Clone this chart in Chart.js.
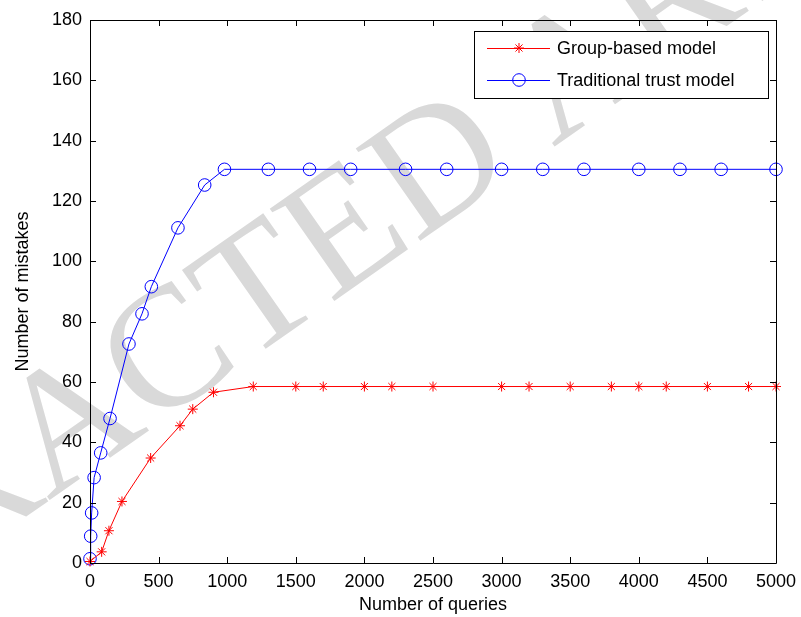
<!DOCTYPE html>
<html>
<head>
<meta charset="utf-8">
<script src="https://cdn.jsdelivr.net/npm/chart.js@4/dist/chart.umd.min.js"></script>
<style>
  html, body { margin: 0; padding: 0; background: #fff; }
  #wrap { width: 801px; height: 617px; }
</style>
</head>
<body>
<div id="wrap"><canvas id="chart" width="801" height="617"></canvas></div>
<script>
// values
const groupQueries = [0, 85, 138, 233, 442, 656, 749, 900, 1190, 1500, 1700, 2000, 2200, 2500, 3000, 3200, 3500, 3800, 4000, 4200, 4500, 4800, 5000];
const groupMistakes = [0.5, 3.7, 10.7, 20.4, 34.8, 45.5, 51.0, 56.6, 58.5, 58.5, 58.5, 58.5, 58.5, 58.5, 58.5, 58.5, 58.5, 58.5, 58.5, 58.5, 58.5, 58.5, 58.5];
const tradQueries = [0, 5, 12, 30, 78, 146, 284, 379, 447, 641, 836, 980, 1300, 1600, 1900, 2300, 2600, 3000, 3300, 3600, 4000, 4300, 4600, 5000];
const tradMistakes = [1.4, 8.9, 16.6, 28.3, 36.5, 47.9, 72.6, 82.6, 91.6, 111.1, 125.3, 130.5, 130.5, 130.5, 130.5, 130.5, 130.5, 130.5, 130.5, 130.5, 130.5, 130.5, 130.5, 130.5];
const seriesNames = ["Group-based model", "Traditional trust model"];
const xTicks = [0, 500, 1000, 1500, 2000, 2500, 3000, 3500, 4000, 4500, 5000];
const yTicks = [0, 20, 40, 60, 80, 100, 120, 140, 160, 180];

const font = "'Liberation Sans', Arial, sans-serif";

function toPoints(xs, ys) {
  return xs.map((x, i) => ({ x: x, y: ys[i] }));
}

// grey diagonal watermark behind everything
const watermark = {
  id: "watermark",
  beforeDraw(chart) {
    const ctx = chart.ctx;
    ctx.save();
    ctx.fillStyle = "#fff";
    ctx.fillRect(0, 0, chart.width, chart.height);
    ctx.translate(388, 208);
    ctx.rotate(-35 * Math.PI / 180);
    ctx.font = "172px 'Liberation Serif', 'Times New Roman', serif";
    ctx.fillStyle = "#d9d9d9";
    ctx.textAlign = "center";
    ctx.textBaseline = "middle";
    ctx.fillText("RETRACTED ARTICLE", 0, 0);
    ctx.restore();
  }
};

// matlab style box, inward ticks on all four sides, legend in the corner
const matlabBox = {
  id: "matlabBox",
  afterDraw(chart) {
    const ctx = chart.ctx;
    const a = chart.chartArea;
    const xs = chart.scales.x, ys = chart.scales.y;
    const tl = 6;
    ctx.save();
    ctx.strokeStyle = "#000";
    ctx.lineWidth = 1;
    ctx.beginPath();
    ctx.rect(Math.round(a.left) + 0.5, Math.round(a.top) + 0.5, Math.round(a.right - a.left), Math.round(a.bottom - a.top));
    xTicks.forEach(v => {
      const px = Math.round(xs.getPixelForValue(v)) + 0.5;
      ctx.moveTo(px, a.bottom); ctx.lineTo(px, a.bottom - tl);
      ctx.moveTo(px, a.top); ctx.lineTo(px, a.top + tl);
    });
    yTicks.forEach(v => {
      const py = Math.round(ys.getPixelForValue(v)) + 0.5;
      ctx.moveTo(a.left, py); ctx.lineTo(a.left + tl, py);
      ctx.moveTo(a.right, py); ctx.lineTo(a.right - tl, py);
    });
    ctx.stroke();

    // legend
    const lx = 474, ly = 31, lw = 294, lh = 67;
    ctx.fillStyle = "#fff";
    ctx.fillRect(lx, ly, lw, lh);
    ctx.strokeRect(lx + 0.5, ly + 0.5, lw, lh);
    ctx.font = "18px " + font;
    ctx.textBaseline = "middle";
    chart.data.datasets.forEach((ds, i) => {
      const y = ly + 17 + i * 32;
      ctx.strokeStyle = ds.borderColor;
      ctx.lineWidth = 1;
      ctx.beginPath();
      ctx.moveTo(487, y + 0.5); ctx.lineTo(550, y + 0.5);
      ctx.stroke();
      ctx.fillStyle = "rgba(0,0,0,0)";
      Chart.helpers.drawPoint(ctx, {
        pointStyle: ds.pointStyle, radius: ds.pointRadius, borderWidth: 1, rotation: 0
      }, 519, y);
      ctx.fillStyle = "#000";
      ctx.fillText(ds.label, 557, y + 1);
    });
    ctx.restore();
  }
};

new Chart(document.getElementById("chart"), {
  type: "line",
  data: {
    datasets: [
      {
        label: seriesNames[0],
        data: toPoints(groupQueries, groupMistakes),
        borderColor: "#ff0000",
        backgroundColor: "#ff0000",
        pointBorderColor: "#ff0000",
        borderWidth: 1,
        pointStyle: "star",
        pointRadius: 5,
        pointBorderWidth: 1,
        tension: 0,
        clip: false
      },
      {
        label: seriesNames[1],
        data: toPoints(tradQueries, tradMistakes),
        borderColor: "#0000ff",
        backgroundColor: "rgba(0,0,0,0)",
        pointBorderColor: "#0000ff",
        pointBackgroundColor: "rgba(0,0,0,0)",
        borderWidth: 1,
        pointStyle: "circle",
        pointRadius: 6.3,
        pointBorderWidth: 1,
        tension: 0,
        clip: false
      }
    ]
  },
  options: {
    responsive: false,
    animation: false,
    layout: { padding: { left: 0, top: 20, right: 25, bottom: 0 } },
    plugins: {
      legend: { display: false },
      tooltip: { enabled: false }
    },
    scales: {
      x: {
        type: "linear",
        min: 0,
        max: 5000,
        afterFit: s => { s.height = 54; s.paddingRight = 0; },
        afterBuildTicks: s => { s.ticks = xTicks.map(v => ({ value: v })); },
        grid: { display: false, drawTicks: false },
        border: { display: false },
        ticks: {
          color: "#000", padding: 8, maxRotation: 0,
          font: { family: font, size: 18 },
          callback: v => String(v)
        },
        title: {
          display: true,
          text: "Number of queries",
          color: "#000",
          padding: { top: 0, bottom: 1 },
          font: { family: font, size: 18 }
        }
      },
      y: {
        type: "linear",
        min: 0,
        max: 180,
        afterFit: s => { s.width = 90; },
        afterBuildTicks: s => { s.ticks = yTicks.map(v => ({ value: v })); },
        grid: { display: false, drawTicks: false },
        border: { display: false },
        ticks: { color: "#000", padding: 8, font: { family: font, size: 18 } },
        title: {
          display: true,
          text: "Number of mistakes",
          color: "#000",
          padding: { top: 12, bottom: 0 },
          font: { family: font, size: 18 }
        }
      }
    }
  },
  plugins: [watermark, matlabBox]
});
</script>
</body>
</html>
